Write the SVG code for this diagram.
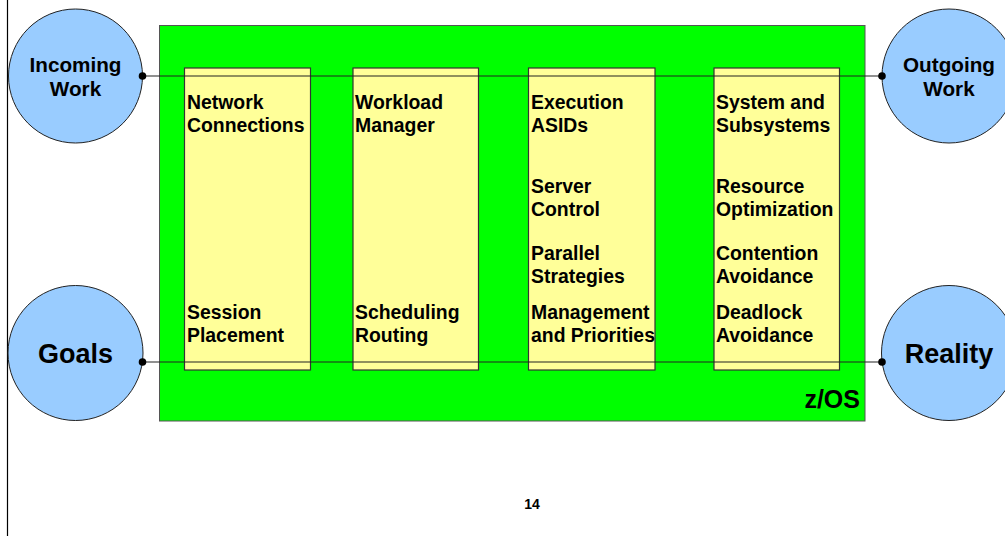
<svg xmlns="http://www.w3.org/2000/svg" width="1005" height="536" viewBox="0 0 1005 536">
<style>
  text { font-family: "Liberation Sans", Arial, sans-serif; font-weight: bold; fill: #000; }
  .col { font-size: 19.4px; }
  .circ { fill: #99CCFF; stroke: #222; stroke-width: 1; }
  .box { fill: #FFFF99; stroke: #333; stroke-width: 1.2; }
  .cl { font-size: 20.7px; text-anchor: middle; }
  .big { font-size: 27px; text-anchor: middle; }
  .conn { stroke: #222; stroke-width: 1.2; fill: none; }
  .dot { fill: #000; }
</style>
<rect x="0" y="0" width="1005" height="536" fill="#fff"/>
<line x1="7.5" y1="0" x2="7.5" y2="536" stroke="#000" stroke-width="1.2"/>

<g id="zos">
  <rect x="159.5" y="25.5" width="705.5" height="395.5" fill="#00FF00" stroke="#555" stroke-width="1"/>
  <text x="860" y="408" font-size="25" text-anchor="end">z/OS</text>
</g>

<g id="col-network">
  <rect class="box" x="184.5" y="68" width="126" height="302"/>
  <text class="col" x="187" y="109">Network</text>
  <text class="col" x="187" y="132">Connections</text>
  <text class="col" x="187" y="319">Session</text>
  <text class="col" x="187" y="342">Placement</text>
</g>

<g id="col-workload">
  <rect class="box" x="353" y="68" width="125.5" height="302"/>
  <text class="col" x="355" y="109">Workload</text>
  <text class="col" x="355" y="132">Manager</text>
  <text class="col" x="355" y="319">Scheduling</text>
  <text class="col" x="355" y="342">Routing</text>
</g>

<g id="col-execution">
  <rect class="box" x="528.5" y="68" width="126.5" height="302"/>
  <text class="col" x="531" y="109">Execution</text>
  <text class="col" x="531" y="132">ASIDs</text>
  <text class="col" x="531" y="193">Server</text>
  <text class="col" x="531" y="216">Control</text>
  <text class="col" x="531" y="260">Parallel</text>
  <text class="col" x="531" y="283">Strategies</text>
  <text class="col" x="531" y="319">Management</text>
  <text class="col" x="531" y="342">and Priorities</text>
</g>

<g id="col-system">
  <rect class="box" x="714" y="68" width="125.5" height="302"/>
  <text class="col" x="716" y="109">System and</text>
  <text class="col" x="716" y="132">Subsystems</text>
  <text class="col" x="716" y="193">Resource</text>
  <text class="col" x="716" y="216">Optimization</text>
  <text class="col" x="716" y="260">Contention</text>
  <text class="col" x="716" y="283">Avoidance</text>
  <text class="col" x="716" y="319">Deadlock</text>
  <text class="col" x="716" y="342">Avoidance</text>
</g>

<g id="incoming">
  <circle class="circ" cx="75.5" cy="76" r="67"/>
  <text class="cl" x="75.5" y="72">Incoming</text>
  <text class="cl" x="75.5" y="96">Work</text>
</g>

<g id="outgoing">
  <circle class="circ" cx="949" cy="76" r="67"/>
  <text class="cl" x="949" y="72">Outgoing</text>
  <text class="cl" x="949" y="96">Work</text>
</g>

<g id="goals">
  <circle class="circ" cx="75.5" cy="353" r="67.5"/>
  <text class="big" x="75.5" y="363">Goals</text>
</g>

<g id="reality">
  <circle class="circ" cx="949" cy="353" r="67.5"/>
  <text class="big" x="949" y="363">Reality</text>
</g>

<g id="connectors">
  <line class="conn" x1="142.5" y1="76" x2="882" y2="76"/>
  <circle class="dot" cx="142.5" cy="76" r="3.8"/>
  <circle class="dot" cx="882" cy="76" r="3.8"/>
  <line class="conn" x1="142.5" y1="362" x2="882" y2="362" stroke="#444"/>
  <circle class="dot" cx="142.5" cy="362" r="3.8"/>
  <circle class="dot" cx="882" cy="362" r="3.8"/>
</g>

<text x="532" y="509" font-size="14" text-anchor="middle">14</text>
</svg>
